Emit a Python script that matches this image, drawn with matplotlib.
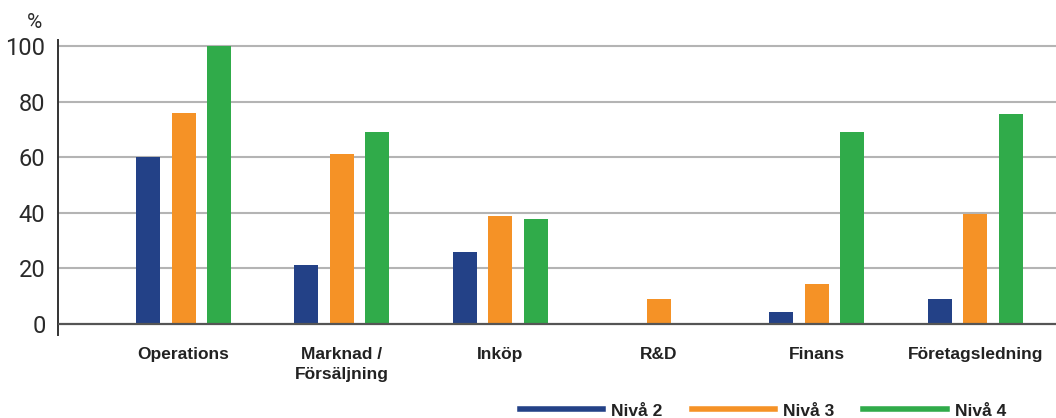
import matplotlib
matplotlib.use("Agg")
import matplotlib.pyplot as plt
from matplotlib.lines import Line2D
import numpy as np

categories = ["Operations", "Marknad /\nFörsäljning", "Inköp", "R&D", "Finans", "Företagsledning"]
series_names = ["Nivå 2", "Nivå 3", "Nivå 4"]
niva2 = [60, 21.4, 26, 0, 4.2, 9]
niva3 = [76, 61.4, 39, 9, 14.2, 39.7]
niva4 = [100, 69.2, 37.8, 0, 69.2, 75.8]
y_ticks = [0, 20, 40, 60, 80, 100]

colors = ["#234187", "#f59226", "#30ab4a"]

plt.rcParams["font.family"] = ["Liberation Sans", "DejaVu Sans"]

fig = plt.figure(figsize=(10.56, 4.18), dpi=100)
ax = fig.add_axes([58 / 1056, 1 - 335 / 418, 1 - 58 / 1056, (335 - 40) / 418])

x = np.arange(len(categories))
width = 0.152
offset = 0.224
for i, (vals, name, col) in enumerate(zip([niva2, niva3, niva4], series_names, colors)):
    ax.bar(x + (i - 1) * offset, vals, width, color=col, label=name, zorder=3)

for t in y_ticks[1:]:
    ax.axhline(t, color="#b4b4b4", lw=1.5, zorder=1)
ax.axhline(0, color="#555555", lw=1.6, zorder=4)

ax.set_xlim(-0.793, 5.51)
ax.set_ylim(-4, 102.3)
ax.set_yticks(y_ticks)
ax.set_yticklabels([str(t) for t in y_ticks], fontsize=17, color="#2a2a2a",
                   family=["Roboto", "DejaVu Sans"], fontweight="normal")
ax.tick_params(axis="y", length=0, pad=9)
ax.set_xticks([])

for s in ["top", "right", "bottom"]:
    ax.spines[s].set_visible(False)
ax.spines["left"].set_color("#333333")
ax.spines["left"].set_linewidth(1.4)

for xi, lab in zip(x, categories):
    ax.text(xi, -8.2, lab, ha="center", va="top", fontsize=12.5, fontweight="bold",
            color="#222222", linespacing=1.45, transform=ax.transData)

fig.text(34 / 1056, 1 - 23 / 418, "%", ha="center", va="center", fontsize=15,
         color="#2a2a2a", family=["Roboto", "DejaVu Sans"], fontweight="normal")

# Legend with thick line handles
handles = [Line2D([0], [0], color=c, lw=4) for c in colors]
leg = fig.legend(handles, series_names, loc="center", bbox_to_anchor=(763 / 1056, 1 - 411 / 418), ncol=3,
                 frameon=False, handlelength=4.8, handletextpad=0.46, columnspacing=1.67,
                 borderpad=0, prop={"size": 12.5, "weight": "bold"})
for t in leg.get_texts():
    t.set_color("#222222")

fig.savefig("out.png", dpi=100)
